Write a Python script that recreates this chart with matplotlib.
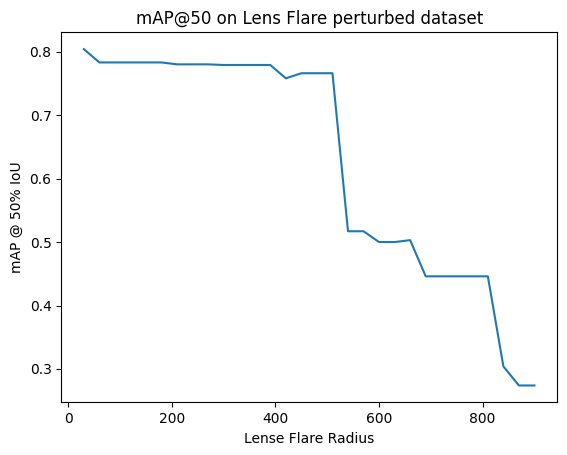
import matplotlib
matplotlib.use("Agg")
import matplotlib.pyplot as plt

radius = [30, 60, 90, 120, 150, 180, 210, 240, 270, 300,
          330, 360, 390, 420, 450, 480, 510, 540, 570, 600,
          630, 660, 690, 720, 750, 780, 810, 840, 870, 900]
map50 = [0.804, 0.783, 0.783, 0.783, 0.783, 0.783, 0.780, 0.780, 0.780, 0.779,
         0.779, 0.779, 0.779, 0.758, 0.766, 0.766, 0.766, 0.517, 0.517, 0.500,
         0.500, 0.503, 0.446, 0.446, 0.446, 0.446, 0.446, 0.304, 0.274, 0.274]

fig = plt.figure(figsize=(5.67, 4.55), dpi=100)
ax = fig.add_axes([61.3 / 567, (455 - 402.3) / 455, 495.7 / 567, 370 / 455])
ax.plot(radius, map50)
ax.set_title("mAP@50 on Lens Flare perturbed dataset")
ax.set_xlabel("Lense Flare Radius")
ax.set_ylabel("mAP @ 50% IoU")
fig.savefig("out.png", dpi=100)
